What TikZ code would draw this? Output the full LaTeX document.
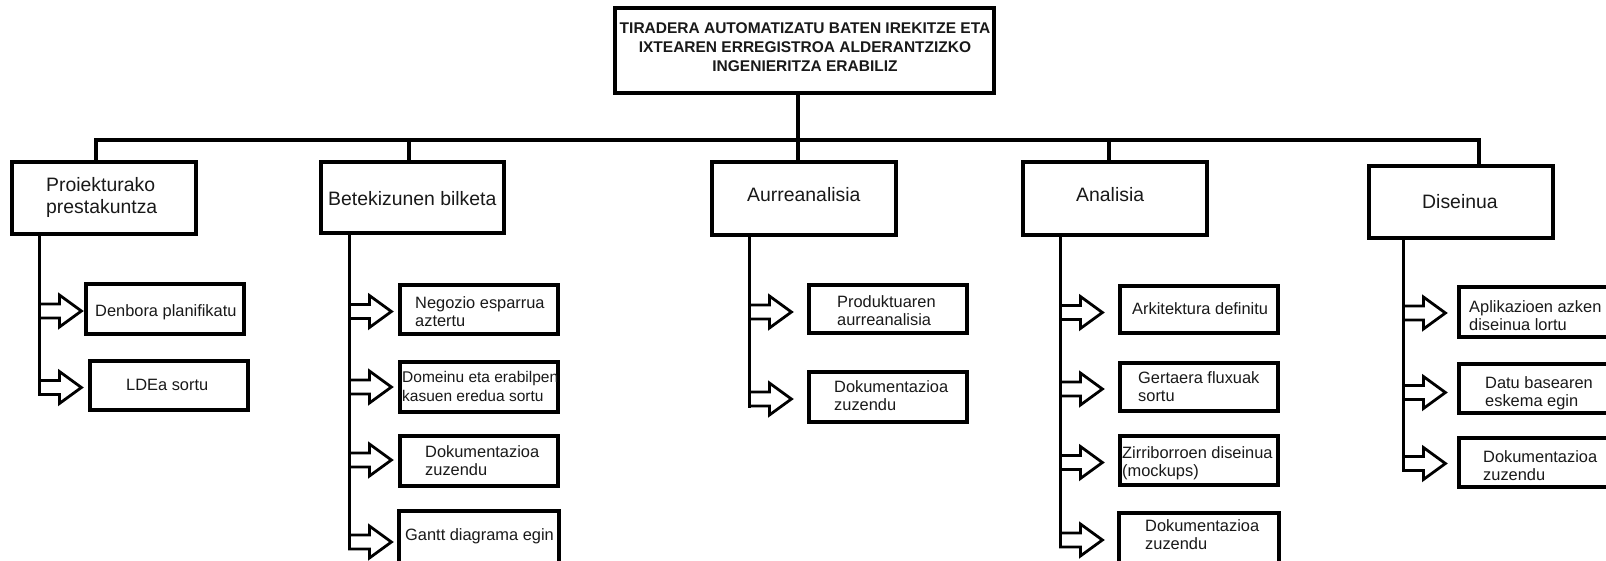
\documentclass[tikz,border=0pt]{standalone}
\usepackage{fontspec}
\setmainfont{Liberation Sans}
\usetikzlibrary{calc}

\tikzset{
  box/.style={draw=black, line width=3.2pt, fill=white, inner sep=0pt},
  link/.style={draw=black, line width=3.2pt},
  hollowarrow/.style={draw=black, fill=white, line width=2.8pt, line join=miter},
  titletext/.style={inner sep=0pt, font=\bfseries\fontsize{15.5}{19}\selectfont, text=black!90, align=center},
  lvltext/.style={inner sep=0pt, font=\fontsize{19.4}{21.6}\selectfont, text=black!90, align=left},
  subtext/.style={inner sep=0pt, font=\fontsize{16.4}{18.5}\selectfont, text=black!90, align=left},
}

% hollow block arrow leaving a stem towards a task box
% #1: vertical offset, #2: stem coordinate, #3: target box
\newcommand\pointer[3][2]{%
  \draw[hollowarrow] ($(#2 |- #3.west)+(0,#1)$) ++(0,-7) -- ++(20,0) -- ++(0,-9)
    -- ++(22,16) -- ++(-22,16) -- ++(0,-9) -- ++(-20,0) -- cycle;}

\begin{document}
\begin{tikzpicture}[x=1pt, y=-1pt]
\useasboundingbox (0,0) rectangle (1606,560);
\clip (0,0) rectangle (1606,560);
\fill[white] (0,0) rectangle (1606,560);

% ---- root ----
\node[box, minimum width=379pt, minimum height=85pt] (title) at (804.5,50.5) {};
\node[titletext, anchor=north] (ttitle) at (805,22.9)
  {TIRADERA AUTOMATIZATU BATEN IREKITZE ETA\\IXTEAREN ERREGISTROA ALDERANTZIZKO\\INGENIERITZA ERABILIZ};

% ---- phases ----
\node[box, minimum width=184pt, minimum height=72pt] (p1) at (104,198) {};
\node[box, minimum width=183pt, minimum height=71pt] (p2) at (412.5,197.5) {};
\node[box, minimum width=184pt, minimum height=73pt] (p3) at (804,198.5) {};
\node[box, minimum width=184pt, minimum height=73pt] (p4) at (1115,198.5) {};
\node[box, minimum width=184pt, minimum height=72pt] (p5) at (1461,202) {};

\node[lvltext, anchor=north west] (tp1) at (46,177.7) {Proiekturako\\prestakuntza};
\node[lvltext, anchor=base west] (tp2) at (328,205) {Betekizunen bilketa};
\node[lvltext, anchor=base west] (tp3) at (747,201.7) {Aurreanalisia};
\node[lvltext, anchor=base west] (tp4) at (1076,201.7) {Analisia};
\node[lvltext, anchor=base west] (tp5) at (1422,208) {Diseinua};

% ---- tree links ----
\coordinate (c1) at (96,140);
\coordinate (c2) at (409,140);
\coordinate (c3) at (798,140);
\coordinate (c4) at (1109,140);
\coordinate (c5) at (1479,140);
\draw[link] (c1 |- p1.north) -- (c1) -- (c5) -- (c5 |- p5.north);
\draw[link] (c2) -- (c2 |- p2.north);
\draw[link] (title.south -| c3) -- (c3 |- p3.north);
\draw[link] (c4) -- (c4 |- p4.north);

% ---- task boxes ----
\node[box, minimum width=158pt, minimum height=50pt] (a1) at (165,309) {};
\node[box, minimum width=158pt, minimum height=49pt] (a2) at (169,385.5) {};

\node[box, minimum width=158pt, minimum height=49pt] (b1) at (479,309.5) {};
\node[box, minimum width=158pt, minimum height=50pt] (b2) at (479,387) {};
\node[box, minimum width=158pt, minimum height=50pt] (b3) at (479,461) {};
\node[box, minimum width=160pt, minimum height=54pt] (b4) at (479,538) {};

\node[box, minimum width=158pt, minimum height=48pt] (c1box) at (888,309) {};
\node[box, minimum width=158pt, minimum height=50pt] (c2box) at (888,397) {};

\node[box, minimum width=158pt, minimum height=47pt] (d1) at (1199,309.5) {};
\node[box, minimum width=158pt, minimum height=48pt] (d2) at (1199,387) {};
\node[box, minimum width=158pt, minimum height=49pt] (d3) at (1199,460.5) {};
\node[box, minimum width=160pt, minimum height=54pt] (d4) at (1199,540) {};

\node[box, minimum width=150pt, minimum height=50pt] (e1) at (1534,312) {};
\node[box, minimum width=150pt, minimum height=49pt] (e2) at (1534,388.5) {};
\node[box, minimum width=150pt, minimum height=49pt] (e3) at (1534,462.5) {};

% ---- task labels ----
\node[subtext, anchor=base west] (ta1) at (95,316.7) {Denbora planifikatu};
\node[subtext, anchor=base west] (ta2) at (126,390) {LDEa sortu};

\node[subtext, anchor=north west] (tb1) at (415,296) {Negozio esparrua\\aztertu};
\node[subtext, anchor=north west, font=\fontsize{15.5}{18.5}\selectfont] (tb2) at (402,371.5) {Domeinu eta erabilpen\\kasuen eredua sortu};
\node[subtext, anchor=north west] (tb3) at (425,445) {Dokumentazioa\\zuzendu};
\node[subtext, anchor=base west] (tb4) at (405,540) {Gantt diagrama egin};

\node[subtext, anchor=north west] (tc1) at (837,295) {Produktuaren\\aurreanalisia};
\node[subtext, anchor=north west] (tc2) at (834,380) {Dokumentazioa\\zuzendu};

\node[subtext, anchor=base west] (td1) at (1132,314) {Arkitektura definitu};
\node[subtext, anchor=north west] (td2) at (1138,371) {Gertaera fluxuak\\sortu};
\node[subtext, anchor=north west] (td3) at (1122,446) {Zirriborroen diseinua\\(mockups)};
\node[subtext, anchor=north west] (td4) at (1145,519) {Dokumentazioa\\zuzendu};

\node[subtext, anchor=north west] (te1) at (1469,300) {Aplikazioen azken\\diseinua lortu};
\node[subtext, anchor=north west] (te2) at (1485,376) {Datu basearen\\eskema egin};
\node[subtext, anchor=north west] (te3) at (1483,450) {Dokumentazioa\\zuzendu};

% ---- stems under each phase ----
\coordinate (s1) at ($(p1.south west)+(29,0)$);
\coordinate (s2) at ($(p2.south west)+(30,0)$);
\coordinate (s3) at ($(p3.south west)+(39,0)$);
\coordinate (s4) at ($(p4.south west)+(39,0)$);
\coordinate (s5) at ($(p5.south west)+(36,0)$);

\draw[link] (s1) -- ($(s1 |- a2.west)+(0,10)$);
\draw[link] (s2) -- ($(s2 |- b4.west)+(0,10)$);
\draw[link] (s3) -- ($(s3 |- c2box.west)+(0,11)$);
\draw[link] (s4) -- ($(s4 |- d4.west)+(0,8)$);
\draw[link] (s5) -- ($(s5 |- e3.west)+(0,9)$);

% ---- arrows ----
\pointer{s1}{a1}
\pointer{s1}{a2}
\pointer{s2}{b1}
\pointer[0]{s2}{b2}
\pointer[-1]{s2}{b3}
\pointer[4]{s2}{b4}
\pointer[3]{s3}{c1box}
\pointer{s3}{c2box}
\pointer[3]{s4}{d1}
\pointer{s4}{d2}
\pointer{s4}{d3}
\pointer[0]{s4}{d4}
\pointer[1]{s5}{e1}
\pointer[4]{s5}{e2}
\pointer[1]{s5}{e3}
\end{tikzpicture}
\end{document}
